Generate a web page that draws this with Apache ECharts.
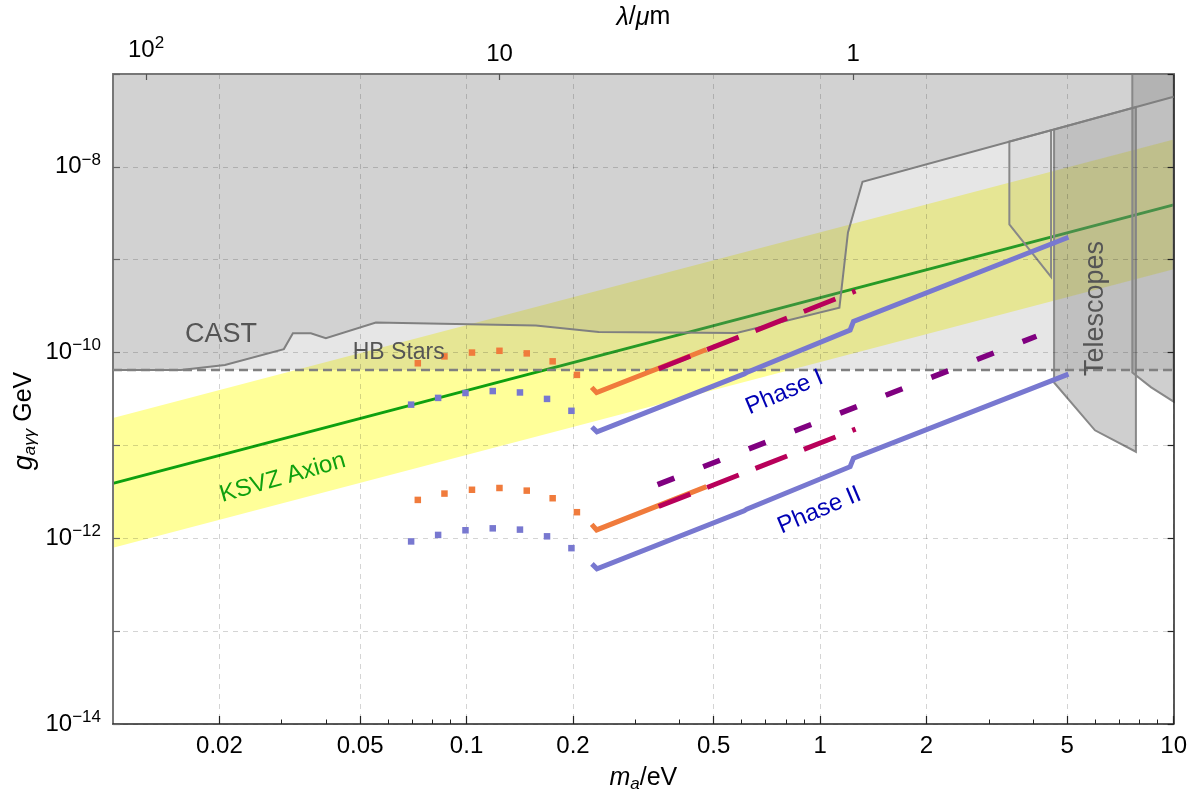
<!DOCTYPE html>
<html><head><meta charset="utf-8">
<script src="https://cdn.jsdelivr.net/npm/echarts@6/dist/echarts.min.js"></script>
<style>html,body{margin:0;padding:0;background:#fff}#c{width:1190px;height:798px}</style>
</head><body><div id="c"></div>
<script>
const FONT = "'Liberation Sans', Arial, Helvetica, sans-serif";
// ---- tick values ----
const xMajorTicks = [0.02, 0.05, 0.1, 0.2, 0.5, 1, 2, 5, 10];
const xMinorTicks = [0.03, 0.04, 0.06, 0.07, 0.08, 0.09, 0.3, 0.4, 0.6, 0.7, 0.8, 0.9, 3, 4, 6, 7, 8, 9];
const yTicks = [1e-14, 1e-13, 1e-12, 1e-11, 1e-10, 1e-9, 1e-8, 1e-7];
const yLabelTicks = [1e-14, 1e-12, 1e-10, 1e-8];
const lambdaTicks = [100, 10, 1];          // λ in μm
const HC = 1.23984;                        // eV·μm, m = HC/λ

// ---- regions ----
const ksvzBand = [[0.01, 1.97e-11], [10, 1.97e-8], [10, 7.9e-10], [0.01, 7.9e-13]];
const ksvzLine = [[0.01, 3.9e-12], [10, 3.9e-9]];
const hbRegion = [[0.01, 6.5e-11], [10, 6.5e-11], [10, 1e-7], [0.01, 1e-7]];
const hbLine = [[0.01, 6.5e-11], [10, 6.5e-11]];
const castCurve = [[0.01, 6.5e-11], [0.01557, 6.5e-11], [0.02073, 7.36e-11], [0.03043, 1.09e-10], [0.03227, 1.615e-10],
  [0.03627, 1.615e-10], [0.04, 1.43e-10], [0.0554, 2.11e-10], [0.157, 1.96e-10], [0.2364, 1.665e-10],
  [0.5804, 1.625e-10], [1.134, 3.05e-10], [1.199, 1.97e-9], [1.318, 6.9e-9], [10, 5.7e-8]];
const castTop = [[10, 1e-7], [0.01, 1e-7]];
const telescopeA = [[3.43, 1.87e-8], [3.43, 2.40e-9], [4.50, 6.55e-10], [4.50, 2.48e-8]];
const telescopeB = [[4.59, 2.53e-8], [4.59, 4.76e-11], [5.99, 1.455e-11], [7.82, 8.55e-12], [7.82, 4.40e-8]];
const telescopeC = [[7.64, 1e-7], [7.64, 6.1e-11], [8.64, 4.22e-11], [10, 2.96e-11], [10, 1e-7]];

// ---- projections ----
const blueDotsI = [[0.0697, 2.75e-11], [0.0831, 3.25e-11], [0.0993, 3.67e-11], [0.1186, 3.85e-11], [0.1416, 3.72e-11], [0.1689, 3.17e-11], [0.198, 2.36e-11]];
const blueDotsII = [[0.0697, 9.25e-13], [0.0831, 1.087e-12], [0.0993, 1.22e-12], [0.1186, 1.28e-12], [0.1416, 1.24e-12], [0.1689, 1.05e-12], [0.198, 7.83e-13]];
const phaseI = [[0.2263, 1.58e-11], [0.2338, 1.40e-11], [0.61, 5.89e-11], [0.62, 6.1e-11], [1.216, 1.75e-10], [1.243, 2.17e-10], [5.04, 1.746e-9]];
const phaseII = [[0.2263, 5.3e-13], [0.2338, 4.69e-13], [0.61, 1.98e-12], [0.62, 2.06e-12], [1.216, 5.9e-12], [1.243, 7.3e-12], [5.04, 5.86e-11]];
const orangeDotsI = [[0.0728, 7.67e-11], [0.0866, 9.1e-11], [0.1036, 1.0e-10], [0.1239, 1.045e-10], [0.148, 9.8e-11], [0.1752, 8.05e-11], [0.2052, 5.75e-11]];
const orangeDotsII = [[0.0728, 2.59e-12], [0.0866, 3.03e-12], [0.1036, 3.33e-12], [0.1239, 3.48e-12], [0.148, 3.26e-12], [0.1752, 2.70e-12], [0.2052, 1.91e-12]];
const orangeI = [[0.2259, 4.22e-11], [0.2333, 3.70e-11], [0.477, 1.08e-10]];
const orangeII = [[0.2259, 1.41e-12], [0.2333, 1.23e-12], [0.477, 3.6e-12]];
const crimsonI = [[0.3495, 6.7e-11], [1.26, 4.6e-10]];
const crimsonII = [[0.3495, 2.2e-12], [1.26, 1.5e-11]];
const purpleII = [[0.347, 3.78e-12], [4.09, 1.5e-10]];

const BLUE = '#7878d0', ORANGE = '#f07b3c', CRIMSON = '#b8005a', PURPLE = '#800080', GREEN = '#0fa00f';
const GRAYF = 'rgba(128,128,128,0.2)', GRAYT = 'rgba(128,128,128,0.38)', EDGE = '#888888';

const chart = echarts.init(document.getElementById('c'));

function poly(name, pts, style, z) {
  return { type: 'custom', name, xAxisIndex: 0, yAxisIndex: 0, data: pts, z, silent: true,
    encode: { x: 0, y: 1 },
    renderItem(params, api) {
      if (params.dataIndex !== 0) return null;
      return { type: 'polygon', shape: { points: pts.map(p => api.coord(p)) }, style };
    } };
}
function line(name, pts, color, width, type, z) {
  return { type: 'line', name, data: pts, xAxisIndex: 0, yAxisIndex: 0, symbol: 'none', silent: true, z,
    lineStyle: { color, width, type: type || 'solid', cap: 'butt', join: 'miter' } };
}
function dots(name, pts, color, z) {
  return { type: 'scatter', name, data: pts, xAxisIndex: 0, yAxisIndex: 0, symbol: 'rect', symbolSize: 6.5,
    itemStyle: { color, opacity: 1 }, silent: true, z };
}
const gridLine = { show: true, lineStyle: { color: 'rgba(0,0,0,0.17)', width: 1, type: [5, 5] } };
const lab = { color: '#000', fontSize: 24, fontFamily: FONT };
const supRich = { sup: { fontSize: 17, fontFamily: FONT, color: '#000', padding: [0, 0, 14, 0] } };

chart.setOption({
  animation: false,
  grid: { left: 113, right: 15, top: 74, bottom: 66 },
  xAxis: [
    { type: 'log', min: 0.01, max: 10, position: 'bottom', z: 5,
      axisLine: { show: true, onZero: false, lineStyle: { color: '#222', width: 1.5 } },
      axisTick: { show: true, inside: true, length: 8, customValues: xMajorTicks, lineStyle: { color: '#222', width: 1.2 } },
      axisLabel: Object.assign({ customValues: xMajorTicks, margin: 10, formatter: v => String(+(+v).toPrecision(3)) }, lab),
      splitLine: gridLine,
      name: '{i|m}{s|a}{n|/eV}', nameLocation: 'middle', nameGap: 40,
      nameTextStyle: { fontSize: 24, fontFamily: FONT, color: '#000',
        rich: { i: { fontStyle: 'italic', fontSize: 25, fontFamily: FONT, color: '#000' },
                s: { fontStyle: 'italic', fontSize: 17, fontFamily: FONT, color: '#000', padding: [12, 0, 0, 0] },
                n: { fontSize: 25, fontFamily: FONT, color: '#000' } } } },
    { type: 'log', min: 0.01, max: 10, position: 'bottom', z: 5,
      axisLine: { show: false }, axisLabel: { show: false }, splitLine: { show: false },
      axisTick: { show: true, inside: true, length: 4.5, customValues: xMinorTicks, lineStyle: { color: '#222', width: 1 } } },
    { type: 'log', min: 0.01, max: 10, position: 'top', z: 5,
      axisLine: { show: true, onZero: false, lineStyle: { color: '#777', width: 2 } },
      axisTick: { show: true, inside: true, length: 6, customValues: lambdaTicks.map(l => HC / l), lineStyle: { color: '#555', width: 1.2 } },
      axisLabel: Object.assign({ customValues: lambdaTicks.map(l => HC / l), margin: 8, rich: supRich,
        formatter: v => { const l = Math.round(HC / v); return l === 100 ? '10{sup|2}' : String(l); } }, lab),
      splitLine: { show: false },
      name: '{i|λ}{n|/}{i|μ}{n|m}', nameLocation: 'middle', nameGap: 37,
      nameTextStyle: { fontSize: 25, fontFamily: FONT, color: '#000',
        rich: { i: { fontStyle: 'italic', fontSize: 25, fontFamily: FONT, color: '#000' },
                n: { fontSize: 25, fontFamily: FONT, color: '#000' } } } }
  ],
  yAxis: [
    { type: 'log', min: 1e-14, max: 1e-7, position: 'left', z: 5,
      axisLine: { show: true, onZero: false, lineStyle: { color: '#777', width: 2 } },
      axisTick: { show: true, inside: true, length: 7, customValues: yTicks, lineStyle: { color: '#666', width: 1.2 } },
      axisLabel: Object.assign({ customValues: yLabelTicks, margin: 12, rich: supRich,
        formatter: v => '10{sup|−' + (-Math.round(Math.log10(v))) + '}' }, lab),
      splitLine: gridLine },
    { type: 'log', min: 1e-14, max: 1e-7, position: 'right', z: 5,
      axisLine: { show: true, onZero: false, lineStyle: { color: '#222', width: 1.5 } },
      axisTick: { show: true, inside: true, length: 6, customValues: yTicks, lineStyle: { color: '#222', width: 1.2 } },
      axisLabel: { show: false }, splitLine: { show: false } }
  ],
  series: [
    poly('KSVZ band', ksvzBand, { fill: '#ffff99' }, 1),
    line('KSVZ', ksvzLine, GREEN, 3, 'solid', 2),
    poly('HB', hbRegion, { fill: GRAYF }, 3),
    poly('CAST', castCurve.concat(castTop), { fill: GRAYF }, 3),
    poly('TelA', telescopeA, { fill: 'rgba(128,128,128,0.08)', stroke: EDGE, lineWidth: 2 }, 4),
    poly('TelB', telescopeB, { fill: GRAYT, stroke: EDGE, lineWidth: 2 }, 4),
    poly('TelC', telescopeC, { fill: GRAYT, stroke: EDGE, lineWidth: 2 }, 4),
    line('CAST edge', castCurve, '#808080', 2, 'solid', 6),
    line('HB line', hbLine, '#808080', 2.4, [9, 5], 6),
    dots('orange dots I', orangeDotsI, ORANGE, 7),
    dots('orange dots II', orangeDotsII, ORANGE, 7),
    dots('blue dots I', blueDotsI, BLUE, 7),
    dots('blue dots II', blueDotsII, BLUE, 7),
    line('orange I', orangeI, ORANGE, 5, 'solid', 7),
    line('orange II', orangeII, ORANGE, 5, 'solid', 7),
    line('crimson I', crimsonI, CRIMSON, 5, [34, 18], 8),
    line('crimson II', crimsonII, CRIMSON, 5, [34, 18], 8),
    line('purple II', purpleII, PURPLE, 5.5, [18, 31], 8),
    line('Phase I', phaseI, BLUE, 5, 'solid', 9),
    line('Phase II', phaseII, BLUE, 5, 'solid', 9)
  ]
});

// text annotations anchored in data coordinates
const notes = [
  { text: 'CAST', at: [0.0202, 1.574e-10], size: 27, color: '#555', rot: 0 },
  { text: 'HB Stars', at: [0.0643, 9.9e-11], size: 23, color: '#555', rot: 0 },
  { text: 'KSVZ Axion', at: [0.0302, 4.48e-12], size: 24, color: GREEN, rot: 16 },
  { text: 'Phase I', at: [0.793, 3.72e-11], size: 24, color: '#0000b4', rot: 23 },
  { text: 'Phase II', at: [0.996, 1.995e-12], size: 24, color: '#0000b4', rot: 23 },
  { text: 'Telescopes', at: [6.0, 2.98e-10], size: 27, color: '#555', rot: 90 }
];
const g = notes.map(n => {
  const p = chart.convertToPixel({ xAxisIndex: 0, yAxisIndex: 0 }, n.at);
  return { type: 'text', x: p[0], y: p[1], rotation: n.rot * Math.PI / 180, z: 100, silent: true,
    style: { text: n.text, fontSize: n.size, fontFamily: FONT, fill: n.color, align: 'center', verticalAlign: 'middle' } };
});
g.push({ type: 'text', x: 24, y: 421, rotation: Math.PI / 2, z: 100, silent: true,
  style: { text: '{i|g}{s|aγγ}{n| GeV}', align: 'center', verticalAlign: 'middle', fill: '#000', fontSize: 25, fontFamily: FONT,
    rich: { i: { fontStyle: 'italic', fontSize: 27, fontFamily: FONT, fill: '#000' },
            s: { fontStyle: 'italic', fontSize: 17, fontFamily: FONT, fill: '#000', padding: [12, 0, 0, 0] },
            n: { fontSize: 25, fontFamily: FONT, fill: '#000' } } } });
chart.setOption({ graphic: g });
</script></body></html>
